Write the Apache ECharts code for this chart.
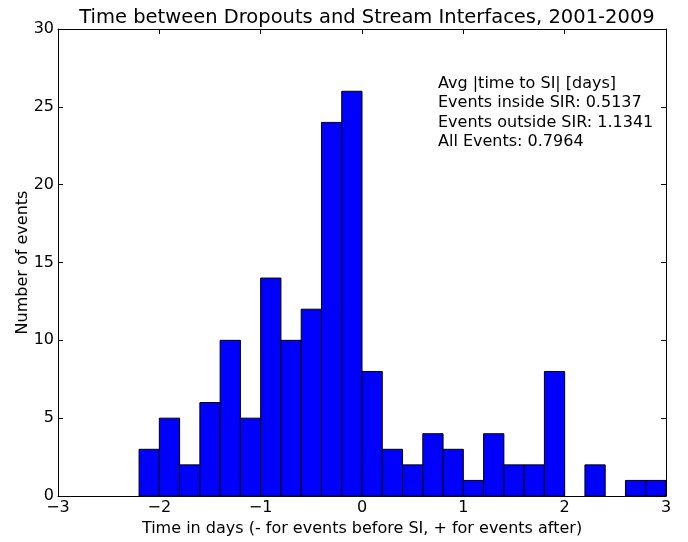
<!DOCTYPE html>
<html>
<head>
<meta charset="utf-8">
<script src="https://cdn.jsdelivr.net/npm/echarts@6/dist/echarts.min.js"></script>
<style>
html,body{margin:0;padding:0;background:#fff;}
#chart{width:688px;height:542px;}
</style>
</head>
<body>
<div id="chart"></div>
<script>
// Histogram bin edges (days) and counts
var binEdges = [-2.2,-2.0,-1.8,-1.6,-1.4,-1.2,-1.0,-0.8,-0.6,-0.4,-0.2,0.0,0.2,0.4,0.6,0.8,1.0,1.2,1.4,1.6,1.8,2.0,2.2,2.4,2.6,2.8,3.0];
var counts = [3,5,2,6,10,5,14,10,12,24,26,8,3,2,4,3,1,4,2,2,8,0,2,0,1,1];
var xTicks = [-3,-2,-1,0,1,2,3];
var yTicks = [0,5,10,15,20,25,30];
var titleText = 'Time between Dropouts and Stream Interfaces, 2001-2009';
var xLabel = 'Time in days (- for events before SI, + for events after)';
var yLabel = 'Number of events';
var noteLines = ['Avg |time to SI| [days]','Events inside SIR: 0.5137','Events outside SIR: 1.1341','All Events: 0.7964'];

var FONT = 'DejaVu Sans';
var data = [];
for (var i = 0; i < counts.length; i++) {
  data.push([binEdges[i], binEdges[i+1], counts[i]]);
}
function fmt(v){ return String(v).replace('-', '\u2212'); }

var axisLine = {show:true, onZero:false, lineStyle:{color:'#000', width:1}};
var tick = {show:true, inside:true, length:5, lineStyle:{color:'#000', width:1}};

var chart = echarts.init(document.getElementById('chart'), null, {renderer:'canvas'});
chart.setOption({
  animation:false,
  backgroundColor:'#fff',
  title:{
    text:titleText, left:362, top:3, textAlign:'center',
    textStyle:{fontFamily:FONT, fontSize:19.5, fontWeight:'normal', color:'#000'}
  },
  grid:{left:58, right:22, top:29, bottom:43, containLabel:false},
  xAxis:[{
    type:'value', min:-3, max:3, interval:1, position:'bottom',
    axisLine:axisLine, axisTick:tick, splitLine:{show:false},
    axisLabel:{fontFamily:FONT, fontSize:16, color:'#000', margin:4, formatter:fmt},
    name:xLabel, nameLocation:'middle', nameGap:25, nameMoveOverlap:false,
    nameTextStyle:{fontFamily:FONT, fontSize:16, color:'#000'}
  },{
    type:'value', min:-3, max:3, interval:1, position:'top',
    axisLine:axisLine, axisTick:tick, splitLine:{show:false},
    axisLabel:{show:false}
  }],
  yAxis:[{
    type:'value', min:0, max:30, interval:5, position:'left',
    axisLine:axisLine, axisTick:tick, splitLine:{show:false},
    axisLabel:{fontFamily:FONT, fontSize:16, color:'#000', margin:4},
    name:yLabel, nameLocation:'middle', nameGap:27, nameRotate:90, nameMoveOverlap:false,
    nameTextStyle:{fontFamily:FONT, fontSize:16, color:'#000'}
  },{
    type:'value', min:0, max:30, interval:5, position:'right',
    axisLine:axisLine, axisTick:tick, splitLine:{show:false},
    axisLabel:{show:false}
  }],
  graphic:[{
    type:'text', left:438, top:74, z:100,
    style:{text:noteLines.join('\n'), fontFamily:FONT, fontSize:16, lineHeight:19.5, fill:'#000'}
  }],
  series:[{
    type:'custom',
    xAxisIndex:0, yAxisIndex:0,
    data:data,
    encode:{x:[0,1], y:2},
    renderItem:function(params, api){
      var y = api.value(2);
      if (!y) return null;
      var p0 = api.coord([api.value(0), y]);
      var p1 = api.coord([api.value(1), 0]);
      return {
        type:'rect',
        shape:{x:p0[0], y:p0[1], width:p1[0]-p0[0], height:p1[1]-p0[1]},
        style:{fill:'#0000ff', stroke:'#000', lineWidth:1}
      };
    }
  }]
});
</script>
</body>
</html>
